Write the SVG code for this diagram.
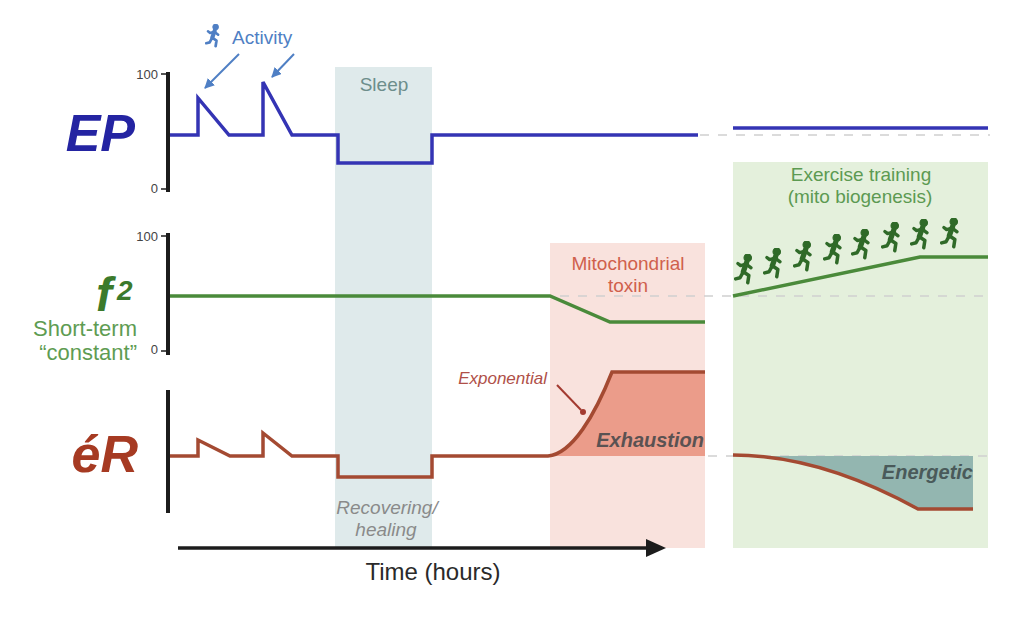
<svg xmlns="http://www.w3.org/2000/svg" xmlns:xlink="http://www.w3.org/1999/xlink" width="1024" height="620" viewBox="0 0 1024 620">
<style>
  text { font-family: "Liberation Sans", Arial, sans-serif; }
  .axis { stroke: #1c1c1c; stroke-width: 4; fill: none; }
  .tick { stroke: #1c1c1c; stroke-width: 1.5; }
  .ticklbl { font-size: 13px; fill: #444; text-anchor: end; }
  .dash { stroke: #cfcfcf; stroke-width: 1.5; stroke-dasharray: 9 9; fill: none; }
  .ep { stroke: #3434b4; stroke-width: 3.5; fill: none; stroke-linejoin: miter; }
  .f2 { stroke: #4a8a3a; stroke-width: 3.5; fill: none; }
  .er { stroke: #a44a32; stroke-width: 3.5; fill: none; }
  .big { font-weight: bold; font-style: italic; }
</style>
<defs>
  <symbol id="runner" viewBox="0 0 20 28">
    <circle cx="12.5" cy="3.4" r="3.4"/>
    <g fill="none" stroke-linecap="round" stroke-linejoin="round">
      <path d="M11.5 7.5 L8.5 16" stroke-width="4.8"/>
      <path d="M11 9 L15.5 12.5 M11 9 L6 10.5 L3.5 8.5" stroke-width="3"/>
      <path d="M8.5 16 L13.5 19.5 L12.5 26 M8.5 16 L5.5 21.5 L1.5 22.5" stroke-width="3.2"/>
    </g>
  </symbol>
  <marker id="bluehead" viewBox="0 0 10 10" refX="9" refY="5" markerWidth="5" markerHeight="5" orient="auto">
    <path d="M0 0 L10 5 L0 10 Z" fill="#4f7fc4"/>
  </marker>
</defs>

<rect width="1024" height="620" fill="#ffffff"/>

<!-- background bands -->
<g id="sleep-band">
  <rect x="335" y="67" width="97" height="481" fill="#dfeaeb"/>
  <text x="384" y="91" font-size="19" fill="#6d8e8b" text-anchor="middle">Sleep</text>
  <text x="387" y="514" font-size="19" font-style="italic" fill="#8a8a8a" text-anchor="middle">Recovering/</text>
  <text x="386" y="536" font-size="19" font-style="italic" fill="#8a8a8a" text-anchor="middle">healing</text>
</g>
<g id="toxin-band">
  <rect x="550" y="243" width="155" height="305" fill="#f9e2dd"/>
  <text x="628" y="270" font-size="19" fill="#d0604c" text-anchor="middle">Mitochondrial</text>
  <text x="628" y="292" font-size="19" fill="#d0604c" text-anchor="middle">toxin</text>
</g>
<g id="exercise-band">
  <rect x="733" y="162" width="255" height="386" fill="#e4f0dc"/>
  <text x="861" y="181" font-size="19" fill="#5c9a52" text-anchor="middle">Exercise training</text>
  <text x="860" y="203" font-size="19" fill="#5c9a52" text-anchor="middle">(mito biogenesis)</text>
</g>

<!-- dashed reference lines -->
<g id="reference-lines">
  <path class="dash" d="M700 135 H990"/>
  <path class="dash" d="M560 296 H990"/>
  <path class="dash" d="M708 456 H990"/>
</g>

<!-- EP panel -->
<g id="ep-panel">
  <text x="135" y="151" font-size="52" class="big" fill="#2424a2" text-anchor="end">EP</text>
  <path class="axis" d="M168 72 V192"/>
  <path class="tick" d="M161 74 H168 M161 189 H168"/>
  <text class="ticklbl" x="158" y="79">100</text>
  <text class="ticklbl" x="158" y="193">0</text>
  <path class="ep" d="M170 135 H198 V98 L229 135 H263 V82 L292 135 H338 V163 H432 V135 H698"/>
  <path class="ep" d="M733 128 H988"/>
</g>

<g id="activity">
  <use xlink:href="#runner" href="#runner" x="205" y="24" width="17" height="24" fill="#4f7fc4" stroke="#4f7fc4"/>
  <text x="232" y="44" font-size="19" fill="#4f7fc4">Activity</text>
  <path d="M239 54 L205 88" stroke="#4f7fc4" stroke-width="2" fill="none" marker-end="url(#bluehead)"/>
  <path d="M294 54 L272 77" stroke="#4f7fc4" stroke-width="2" fill="none" marker-end="url(#bluehead)"/>
</g>

<!-- f2 panel -->
<g id="f2-panel">
  <text x="96" y="311" font-size="48" class="big" fill="#3b7a2c">f</text>
  <text x="117" y="300" font-size="28" font-weight="bold" font-style="italic" fill="#3b7a2c">2</text>
  <text x="137" y="336" font-size="22" fill="#5e9c52" text-anchor="end">Short-term</text>
  <text x="137" y="360" font-size="22" fill="#5e9c52" text-anchor="end">“constant”</text>
  <path class="axis" d="M168 233 V355"/>
  <path class="tick" d="M161 236 H168 M161 351 H168"/>
  <text class="ticklbl" x="158" y="241">100</text>
  <text class="ticklbl" x="158" y="354">0</text>
  <path class="f2" d="M170 296 H550 L610 322 H705"/>
  <path class="f2" d="M733 296 L920 257 H988" stroke="#3e7a30" stroke-width="4"/>
</g>

<g id="runners" fill="#2f6a28" stroke="#2f6a28">
  <use xlink:href="#runner" href="#runner" x="734" y="254" width="22" height="31"/>
  <use xlink:href="#runner" href="#runner" x="763" y="248" width="22" height="31"/>
  <use xlink:href="#runner" href="#runner" x="793" y="241" width="22" height="31"/>
  <use xlink:href="#runner" href="#runner" x="823" y="234" width="22" height="31"/>
  <use xlink:href="#runner" href="#runner" x="851" y="229" width="22" height="31"/>
  <use xlink:href="#runner" href="#runner" x="881" y="222" width="22" height="31"/>
  <use xlink:href="#runner" href="#runner" x="910" y="219" width="22" height="31"/>
  <use xlink:href="#runner" href="#runner" x="940" y="218" width="22" height="31"/>
</g>

<!-- eR panel -->
<g id="er-panel">
  <text x="138" y="472" font-size="52" class="big" fill="#a63a22" text-anchor="end">éR</text>
  <path class="axis" d="M168 390 V513"/>
  <path d="M548 456 C572 454 595 415 612 372 H705 V456 Z" fill="#eb9c8a"/>
  <path class="er" d="M170 456 H198 V440 L230 456 H263 V433 L292 456 H338 V477 H432 V456 H548 C572 454 595 415 612 372 H705"/>
  <text x="704" y="447" font-size="20" class="big" fill="#5a5252" text-anchor="end">Exhaustion</text>
  <text x="547" y="384" font-size="17" font-style="italic" fill="#b05048" text-anchor="end">Exponential</text>
  <path d="M557 385 L581 410" stroke="#a33a30" stroke-width="2"/>
  <circle cx="583" cy="412" r="3" fill="#a33a30"/>
  <path d="M733 455 Q820 455 918 509 H973 V456 H733 Z" fill="#93b6b0"/>
  <path class="er" d="M733 455 Q820 455 918 509 H973" stroke-width="4"/>
  <text x="973" y="479" font-size="20" class="big" fill="#4a5a5a" text-anchor="end">Energetic</text>
</g>

<!-- time axis -->
<g id="time-axis">
  <path d="M178 548 H650" stroke="#1c1c1c" stroke-width="3.5"/>
  <path d="M646 539 L666 548 L646 557 Z" fill="#1c1c1c"/>
  <text x="433" y="580" font-size="24" fill="#2a2a2a" text-anchor="middle">Time (hours)</text>
</g>
</svg>
